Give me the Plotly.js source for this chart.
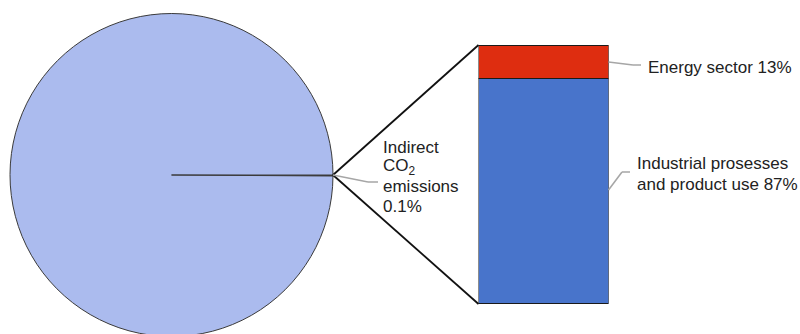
<!DOCTYPE html>
<html>
<head>
<meta charset="utf-8">
<script src="https://cdn.plot.ly/plotly-3.0.1.min.js"></script>
<style>html,body{margin:0;padding:0;background:#fff;overflow:hidden;}#chart{width:800px;height:337px;}</style>
</head>
<body>
<div id="chart"></div>
<script>
// Pie data: share of total (indirect CO2 emissions vs the rest)
const pieLabels = ['Indirect CO2 emissions', 'Other'];
const pieValues = [0.1, 99.9];

// Breakdown bar of the indirect CO2 slice
const barCategory = ['Indirect CO2 emissions'];
const barSeriesNames = ['Industrial prosesses and product use', 'Energy sector'];
const barIndustrial = [87];
const barEnergy = [13];

// page is slightly taller than the 334px window so the pie's bottom is clipped as in the reference
const W = 800, H = 337;
const px = x => x / W;
const py = y => 1 - y / H;

const FONT = 'Liberation Sans, Arial, sans-serif';
const fs = 17;

const traces = [
  {
    type: 'pie',
    labels: pieLabels,
    values: pieValues,
    sort: false,
    direction: 'clockwise',
    rotation: 90,
    textinfo: 'none',
    hoverinfo: 'none',
    showlegend: false,
    domain: {x: [px(10), px(333)], y: [0, py(13)]},
    marker: {colors: ['#1a1a1a', '#ABBBEE'], line: {color: '#3a3a3a', width: 1}}
  },
  {
    type: 'bar',
    x: barCategory,
    y: barIndustrial,
    name: barSeriesNames[0],
    width: 1,
    marker: {color: '#4874CB', line: {color: '#1a1a1a', width: 1.5}},
    hoverinfo: 'none',
    showlegend: false
  },
  {
    type: 'bar',
    x: barCategory,
    y: barEnergy,
    name: barSeriesNames[1],
    width: 1,
    marker: {color: '#DE2D10', line: {color: '#1a1a1a', width: 1.5}},
    hoverinfo: 'none',
    showlegend: false
  }
];

function ann(text, x, y) {
  return {text: text, xref: 'paper', yref: 'paper', x: px(x), y: py(y),
    xanchor: 'left', yanchor: 'middle', showarrow: false,
    font: {family: FONT, size: fs, color: '#222222'}};
}

const layout = {
  width: W, height: H,
  margin: {l: 0, r: 0, t: 0, b: 0},
  paper_bgcolor: '#ffffff',
  plot_bgcolor: 'rgba(0,0,0,0)',
  barmode: 'stack',
  showlegend: false,
  xaxis: {domain: [px(478.5), px(608.5)], range: [-0.5, 0.5], visible: false, fixedrange: true},
  yaxis: {domain: [py(304), py(45)], range: [0, 100], visible: false, fixedrange: true},
  shapes: [
    {type: 'line', xref: 'paper', yref: 'paper', x0: px(333), y0: py(175), x1: px(478.5), y1: py(45), line: {color: '#111111', width: 1.8}},
    {type: 'line', xref: 'paper', yref: 'paper', x0: px(333), y0: py(175), x1: px(478.5), y1: py(304), line: {color: '#111111', width: 1.8}}
  ],
  annotations: [
    ann('Indirect', 381, 147),
    ann('CO<sub>2</sub>', 381, 167),
    ann('emissions', 381, 186),
    ann('0.1%', 381, 206),
    ann('Energy sector 13%', 646, 68),
    ann('Industrial prosesses', 635, 164),
    ann('and product use 87%', 635, 184)
  ]
};

// leader lines (gray)
const leaders = [
  [[333,175],[368,182],[378,182]],
  [[608.5,62],[633,65],[641,65]],
  [[608.5,190],[622,172],[630,172]]
];
leaders.forEach(pts => {
  for (let i = 0; i < pts.length - 1; i++) {
    layout.shapes.push({type: 'line', xref: 'paper', yref: 'paper',
      x0: px(pts[i][0]), y0: py(pts[i][1]), x1: px(pts[i+1][0]), y1: py(pts[i+1][1]),
      line: {color: '#A6A6A6', width: 1.5}});
  }
});

Plotly.newPlot('chart', traces, layout, {staticPlot: true, displayModeBar: false});
</script>
</body>
</html>
